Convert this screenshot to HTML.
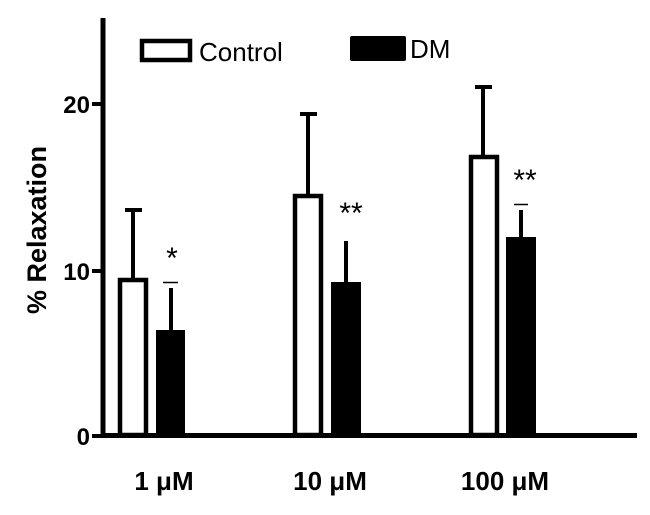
<!DOCTYPE html>
<html><head><meta charset="utf-8"><style>body{margin:0;background:#fff}</style></head>
<body>
<svg width="650" height="510" viewBox="0 0 650 510" xmlns="http://www.w3.org/2000/svg" font-family="Liberation Sans, Arial, sans-serif">
<rect width="650" height="510" fill="#fff"/>
<line x1="103" y1="18" x2="103" y2="438" stroke="#000" stroke-width="5"/>
<line x1="101" y1="435.5" x2="637" y2="435.5" stroke="#000" stroke-width="5"/>
<line x1="92" y1="104" x2="103" y2="104" stroke="#000" stroke-width="4"/>
<line x1="92" y1="271" x2="103" y2="271" stroke="#000" stroke-width="4"/>
<line x1="92" y1="436" x2="103" y2="436" stroke="#000" stroke-width="4"/>
<g font-weight="bold" font-size="24" text-anchor="end">
<text x="90" y="113">20</text><text x="90" y="280">10</text><text x="90" y="445">0</text>
</g>
<text transform="translate(46,230) rotate(-90)" font-weight="bold" font-size="27" text-anchor="middle">% Relaxation</text>
<g font-weight="bold" font-size="26" text-anchor="middle">
<text x="164" y="490">1 μM</text><text x="330" y="490">10 μM</text><text x="505" y="490">100 μM</text>
</g>
<g stroke="#000" stroke-width="4">
<line x1="133" y1="210" x2="133" y2="280"/><line x1="125" y1="210" x2="142" y2="210"/>
<line x1="171" y1="288" x2="171" y2="331"/>
<line x1="308" y1="114" x2="308" y2="196"/><line x1="300" y1="114" x2="317" y2="114"/>
<line x1="346" y1="241" x2="346" y2="283"/>
<line x1="483" y1="87" x2="483" y2="157"/><line x1="475" y1="87" x2="492" y2="87"/>
<line x1="521" y1="210" x2="521" y2="238"/>
</g>
<g stroke="#000" stroke-width="1.5">
<line x1="163" y1="282.5" x2="178" y2="282.5"/>
<line x1="514" y1="204.5" x2="528" y2="204.5"/>
</g>
<g stroke="#000" stroke-width="4.5" fill="#fff">
<rect x="120" y="280" width="26" height="155"/>
<rect x="295" y="196" width="26" height="239"/>
<rect x="471" y="157" width="26" height="278"/>
</g>
<g fill="#000">
<rect x="156" y="330" width="29" height="105"/>
<rect x="331" y="282" width="30" height="153"/>
<rect x="506" y="237" width="30" height="198"/>
</g>
<g font-size="30" text-anchor="middle">
<text x="172" y="268">*</text><text x="351" y="223">**</text><text x="525" y="190">**</text>
</g>
<rect x="142" y="41" width="48" height="19" fill="#fff" stroke="#000" stroke-width="4.5"/>
<text x="199" y="61" font-size="26">Control</text>
<rect x="350" y="36" width="56" height="25" rx="2" fill="#000"/>
<text x="410" y="58" font-size="26">DM</text>
</svg>
</body></html>
